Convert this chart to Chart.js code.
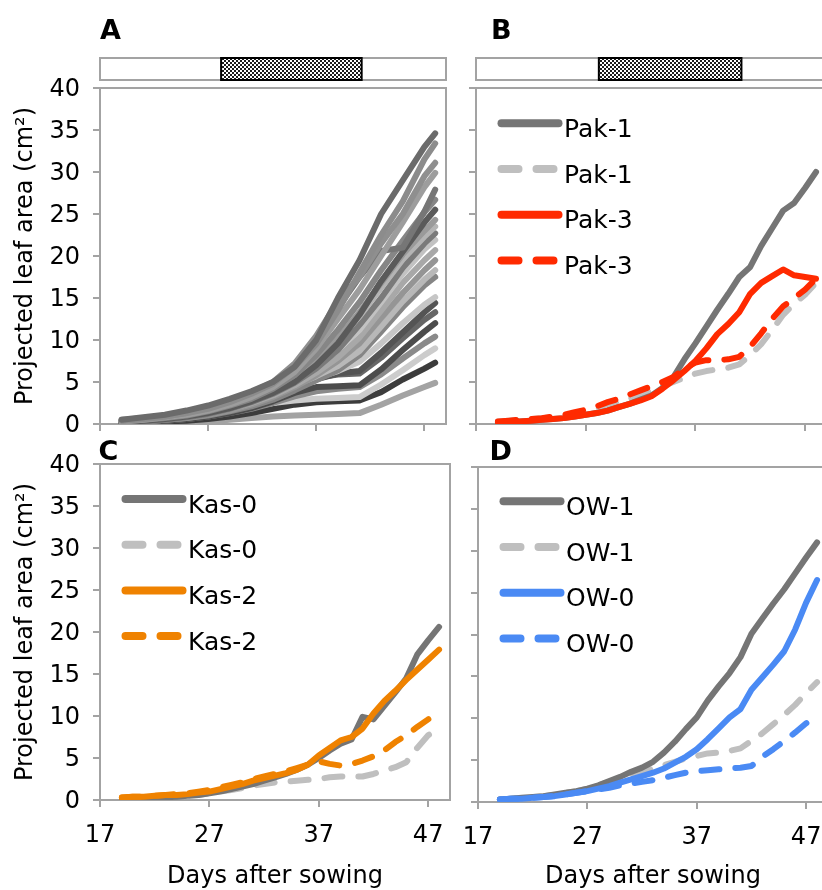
<!DOCTYPE html>
<html>
<head>
<meta charset="utf-8">
<script src="https://cdn.jsdelivr.net/npm/chart.js@4.4.1/dist/chart.umd.min.js"></script>
<style>
  html, body { margin: 0; padding: 0; background: #fff; overflow: hidden; width: 822px; height: 890px; position: relative; }
  canvas { position: absolute; left: 0; top: 0; }
</style>
</head>
<body>
<canvas id="pA" width="822" height="890"></canvas>
<canvas id="pB" width="850" height="890"></canvas>
<canvas id="pC" width="822" height="890"></canvas>
<canvas id="pD" width="850" height="890"></canvas>
<script>
// ---- axes ----
const dayTicks = [17, 27, 37, 47];
const areaTicks = [0, 5, 10, 15, 20, 25, 30, 35, 40];
const stressDays = [28.2, 41.2];          // stress period shown in the bar above A and B

// ---- panel A: individual accessions (every second day) ----
const daysA = [19, 21, 23, 25, 27, 29, 31, 33, 35, 37, 39, 41, 43, 45, 47, 48];
const a01 = [0.5, 0.8, 1.1, 1.6, 2.2, 3.0, 3.9, 5.0, 6.8, 10.0, 15.0, 19.5, 25.0, 29.0, 33.0, 34.6];
const a02 = [0.4, 0.6, 0.9, 1.3, 1.8, 2.6, 3.6, 4.8, 6.8, 9.5, 13.5, 18.0, 22.5, 26.5, 31.5, 33.4];
const a03 = [0.4, 0.6, 0.9, 1.3, 1.9, 2.7, 3.7, 5.0, 7.2, 10.5, 14.6, 17.5, 21.5, 25.0, 29.5, 31.1];
const a04 = [0.3, 0.5, 0.8, 1.1, 1.6, 2.3, 3.2, 4.4, 6.2, 9.0, 12.5, 16.0, 20.0, 24.0, 28.2, 29.9];
const a05 = [0.4, 0.6, 0.9, 1.2, 1.7, 2.5, 3.4, 4.6, 6.8, 9.8, 13.8, 17.5, 20.6, 21.0, 25.3, 27.9];
const a06 = [0.3, 0.5, 0.7, 1.0, 1.5, 2.2, 3.0, 4.2, 5.8, 8.2, 11.2, 14.5, 18.3, 21.8, 25.2, 26.7];
const a07 = [0.2, 0.4, 0.6, 0.9, 1.3, 1.9, 2.7, 3.7, 5.0, 7.0, 9.6, 13.0, 17.0, 20.5, 24.0, 25.5];
const a08 = [0.3, 0.5, 0.7, 1.0, 1.4, 2.0, 2.9, 4.0, 5.6, 7.6, 10.2, 13.3, 16.8, 20.2, 23.0, 24.3];
const a09 = [0.5, 0.7, 1.0, 1.4, 1.9, 2.6, 3.5, 4.6, 6.0, 7.8, 10.0, 12.8, 16.2, 19.6, 22.3, 23.5];
const a10 = [0.2, 0.3, 0.5, 0.8, 1.2, 1.8, 2.6, 3.6, 4.9, 6.6, 8.8, 11.8, 15.0, 18.6, 21.5, 22.7];
const a11 = [0.4, 0.6, 0.8, 1.1, 1.5, 2.1, 2.9, 3.9, 5.2, 6.9, 8.9, 11.2, 14.5, 17.9, 20.8, 21.9];
const a12 = [0.3, 0.4, 0.6, 0.9, 1.3, 1.8, 2.5, 3.4, 4.6, 6.1, 7.9, 10.3, 13.5, 16.8, 19.5, 20.7];
const a13 = [0.2, 0.3, 0.5, 0.7, 1.1, 1.6, 2.3, 3.2, 4.4, 5.8, 7.5, 9.6, 12.6, 15.6, 18.3, 19.5];
const a14 = [0.4, 0.6, 0.8, 1.1, 1.5, 2.1, 2.8, 3.6, 4.6, 5.7, 6.9, 8.7, 11.6, 14.6, 17.2, 18.3];
const a15 = [0.2, 0.3, 0.5, 0.7, 1.0, 1.5, 2.1, 2.9, 4.0, 5.2, 6.4, 8.2, 11.0, 13.9, 16.5, 17.5];
const a16 = [0.5, 0.7, 0.9, 1.2, 1.6, 2.2, 2.9, 3.7, 4.6, 5.5, 6.3, 7.4, 9.6, 12.0, 14.2, 15.1];
const a17 = [0.2, 0.3, 0.5, 0.7, 1.0, 1.5, 2.1, 2.9, 4.0, 5.3, 6.0, 6.3, 8.5, 10.9, 13.3, 14.4];
const a18 = [0.3, 0.4, 0.6, 0.8, 1.2, 1.7, 2.3, 3.1, 4.2, 5.5, 5.9, 6.0, 7.9, 10.2, 12.4, 13.3];
const a19 = [0.2, 0.3, 0.4, 0.6, 0.9, 1.3, 1.9, 2.7, 3.7, 4.4, 4.5, 4.6, 6.5, 8.8, 11.0, 12.0];
const a20 = [0.2, 0.3, 0.4, 0.6, 0.9, 1.3, 1.8, 2.5, 3.3, 3.9, 4.2, 4.4, 5.9, 7.8, 9.6, 10.4];
const a21 = [0.4, 0.5, 0.6, 0.8, 1.1, 1.5, 2.0, 2.5, 2.8, 3.0, 3.1, 3.2, 4.7, 6.4, 8.2, 9.0];
const a22 = [0.1, 0.2, 0.3, 0.4, 0.6, 0.9, 1.3, 1.8, 2.3, 2.6, 2.7, 2.8, 3.8, 5.3, 6.6, 7.3];
const a23 = [0.1, 0.1, 0.2, 0.2, 0.3, 0.5, 0.7, 0.9, 1.0, 1.1, 1.2, 1.3, 2.3, 3.4, 4.4, 4.9];
const accessionsA = [a01, a02, a03, a04, a05, a06, a07, a08, a09, a10, a11, a12,
                     a13, a14, a15, a16, a17, a18, a19, a20, a21, a22, a23];
const shadesA = ['#6b6b6b', '#8c8c8c', '#8f8f8f', '#9d9d9d', '#767676', '#868686', '#5a5a5a', '#9a9a9a',
                 '#b4b4b4', '#7a7a7a', '#c2c2c2', '#a8a8a8', '#959595', '#b8b8b8', '#858585', '#c6c6c6',
                 '#545454', '#666666', '#4c4c4c', '#8a8a8a', '#cccccc', '#3c3c3c', '#a3a3a3'];

// ---- panels B-D: daily means ----
const days = [19, 20, 21, 22, 23, 24, 25, 26, 27, 28, 29, 30, 31, 32, 33, 34, 35, 36, 37, 38, 39, 40, 41, 42, 43, 44, 45, 46, 47, 48];

const pak1Ctrl   = [0.2, 0.3, 0.3, 0.4, 0.5, 0.6, 0.7, 0.9, 1.1, 1.3, 1.6, 2.0, 2.4, 2.9, 3.4, 4.3, 5.6, 7.7, 9.6, 11.6, 13.6, 15.5, 17.5, 18.7, 21.2, 23.3, 25.4, 26.3, 28.1, 30.0];
const pak1Stress = [0.3, 0.4, 0.5, 0.6, 0.7, 0.8, 1.0, 1.2, 1.5, 1.8, 2.2, 2.6, 3.0, 3.5, 4.0, 4.5, 5.0, 5.5, 6.0, 6.3, 6.5, 6.7, 7.1, 8.2, 9.5, 11.2, 13.0, 14.3, 15.4, 16.8];
const pak3Ctrl   = [0.2, 0.3, 0.3, 0.4, 0.5, 0.6, 0.7, 0.9, 1.1, 1.3, 1.6, 2.0, 2.4, 2.8, 3.3, 4.2, 5.2, 6.3, 7.5, 9.0, 10.7, 11.9, 13.3, 15.5, 16.8, 17.6, 18.4, 17.7, 17.5, 17.3];
const pak3Stress = [0.3, 0.4, 0.5, 0.6, 0.7, 0.9, 1.1, 1.4, 1.7, 2.1, 2.6, 3.0, 3.5, 4.0, 4.5, 5.0, 5.6, 6.6, 7.3, 7.6, 7.6, 7.7, 8.0, 9.2, 10.8, 12.5, 14.0, 15.0, 16.0, 17.3];

const kas0Ctrl   = [0.1, 0.1, 0.2, 0.2, 0.3, 0.4, 0.5, 0.6, 0.8, 1.0, 1.3, 1.6, 1.9, 2.3, 2.7, 3.1, 3.6, 4.2, 5.0, 5.9, 6.7, 7.2, 9.9, 9.6, 11.2, 12.8, 14.5, 17.3, 19.0, 20.6];
const kas0Stress = [0.1, 0.1, 0.2, 0.2, 0.3, 0.4, 0.5, 0.6, 0.8, 1.0, 1.2, 1.4, 1.7, 1.9, 2.1, 2.2, 2.3, 2.4, 2.5, 2.7, 2.8, 2.8, 2.8, 3.1, 3.5, 3.9, 4.5, 6.2, 7.7, 8.6];
const kas2Ctrl   = [0.3, 0.4, 0.4, 0.5, 0.6, 0.6, 0.7, 0.9, 1.0, 1.3, 1.6, 1.9, 2.3, 2.6, 2.9, 3.2, 3.6, 4.2, 5.3, 6.2, 7.1, 7.5, 8.5, 10.3, 11.8, 13.0, 14.3, 15.5, 16.7, 17.9];
const kas2Stress = [0.3, 0.4, 0.4, 0.5, 0.6, 0.7, 0.8, 1.0, 1.2, 1.5, 1.8, 2.1, 2.5, 2.8, 3.1, 3.4, 3.8, 4.2, 4.6, 4.3, 4.1, 4.3, 4.7, 5.2, 5.9, 6.9, 7.7, 8.7, 9.6, 10.3];

const ow1Ctrl    = [0.3, 0.4, 0.5, 0.6, 0.7, 0.9, 1.1, 1.3, 1.6, 2.0, 2.5, 3.0, 3.6, 4.1, 4.8, 5.9, 7.2, 8.7, 10.1, 12.1, 13.8, 15.4, 17.3, 20.1, 21.9, 23.7, 25.4, 27.3, 29.2, 31.0];
const ow1Stress  = [0.3, 0.4, 0.5, 0.6, 0.7, 0.9, 1.1, 1.3, 1.6, 2.0, 2.4, 2.8, 3.2, 3.6, 4.0, 4.4, 4.8, 5.2, 5.5, 5.8, 5.9, 6.1, 6.4, 7.3, 8.2, 9.3, 10.4, 11.6, 13.0, 14.3];
const ow0Ctrl    = [0.3, 0.4, 0.4, 0.5, 0.6, 0.7, 0.9, 1.1, 1.3, 1.6, 1.9, 2.3, 2.7, 3.1, 3.5, 4.0, 4.7, 5.4, 6.3, 7.5, 8.8, 10.1, 11.1, 13.4, 14.9, 16.4, 18.0, 20.6, 23.8, 26.5];
const ow0Stress  = [0.3, 0.4, 0.4, 0.5, 0.6, 0.7, 0.9, 1.1, 1.3, 1.5, 1.7, 2.0, 2.2, 2.4, 2.6, 2.9, 3.2, 3.5, 3.7, 3.8, 3.9, 4.0, 4.1, 4.3, 5.4, 6.3, 7.3, 8.3, 9.4, 10.4];

// ---- styling ----
const FONT = '"DejaVu Sans", "Liberation Sans", sans-serif';
const AXIS = '#a3a3a3';
const DARK = '#757575', LIGHT = '#bfbfbf', RED = '#ff2a00', ORANGE = '#ef8200', BLUE = '#4a8af4';
const Y_AXIS_W = 100;

function lineDataset(xs, ys, color, dashed, width) {
  return {
    data: xs.map((x, i) => ({ x: x, y: ys[i] })),
    borderColor: color,
    borderWidth: width,
    borderDash: dashed ? [18, 16] : [],
    borderCapStyle: 'round',
    borderJoinStyle: 'round',
    pointRadius: 0,
    fill: false,
    tension: 0
  };
}

// key entries are listed in legend order; stackOrder gives the drawing order (first = on top)
const keyB = [
  { label: 'Pak-1', values: pak1Ctrl,   color: DARK,  dashed: false },
  { label: 'Pak-1', values: pak1Stress, color: LIGHT, dashed: true },
  { label: 'Pak-3', values: pak3Ctrl,   color: RED,   dashed: false },
  { label: 'Pak-3', values: pak3Stress, color: RED,   dashed: true }
];
const keyC = [
  { label: 'Kas-0', values: kas0Ctrl,   color: DARK,   dashed: false },
  { label: 'Kas-0', values: kas0Stress, color: LIGHT,  dashed: true },
  { label: 'Kas-2', values: kas2Ctrl,   color: ORANGE, dashed: false },
  { label: 'Kas-2', values: kas2Stress, color: ORANGE, dashed: true }
];
const keyD = [
  { label: 'OW-1', values: ow1Ctrl,   color: DARK, dashed: false },
  { label: 'OW-1', values: ow1Stress, color: LIGHT, dashed: true },
  { label: 'OW-0', values: ow0Ctrl,   color: BLUE, dashed: false },
  { label: 'OW-0', values: ow0Stress, color: BLUE, dashed: true }
];
const stackOrder = [2, 3, 0, 1];

function keyDatasets(key) {
  return stackOrder.map(i => lineDataset(days, key[i].values, key[i].color, key[i].dashed, 6));
}

let hatch = null;
function hatchPattern(ctx) {
  if (hatch) return hatch;
  const p = document.createElement('canvas');
  p.width = 4; p.height = 4;
  const g = p.getContext('2d');
  g.fillStyle = '#ffffff'; g.fillRect(0, 0, 4, 4);
  g.fillStyle = '#1c1c1c'; g.fillRect(0, 0, 2, 2); g.fillRect(2, 2, 2, 2);
  hatch = ctx.createPattern(p, 'repeat');
  return hatch;
}

// per-panel decorations: letter, stress bar, key
const decor = {
  pA: { letter: 'A', lx: 100, ly: 38.5, bar: true },
  pB: { letter: 'B', lx: 491, ly: 38.5, bar: true, key: keyB, keyTop: 35.3 },
  pC: { letter: 'C', lx: 98.6, ly: 460, key: keyC, keyTop: 35 },
  pD: { letter: 'D', lx: 489.5, ly: 460, key: keyD, keyTop: 34.3 }
};

const panelDecor = {
  id: 'panelDecor',
  afterDraw(chart) {
    const d = decor[chart.canvas.id];
    const ctx = chart.ctx;
    const ca = chart.chartArea;
    const xs = chart.scales.x;
    ctx.save();

    // closing frame (top and right)
    ctx.strokeStyle = AXIS; ctx.lineWidth = 2; ctx.setLineDash([]);
    ctx.beginPath();
    ctx.moveTo(ca.left - 1, ca.top); ctx.lineTo(ca.right, ca.top); ctx.lineTo(ca.right, ca.bottom);
    ctx.stroke();

    // panel letter
    ctx.fillStyle = '#000';
    ctx.font = 'bold 27px ' + FONT;
    ctx.textAlign = 'left'; ctx.textBaseline = 'alphabetic';
    ctx.fillText(d.letter, d.lx, d.ly);

    // treatment bar with the stress period
    if (d.bar) {
      const y0 = 58, h = 22;
      ctx.fillStyle = '#fff';
      ctx.fillRect(xs.left, y0, xs.right - xs.left, h);
      ctx.strokeStyle = AXIS; ctx.lineWidth = 2;
      ctx.strokeRect(xs.left, y0, xs.right - xs.left, h);
      const s0 = xs.getPixelForValue(stressDays[0]);
      const s1 = xs.getPixelForValue(stressDays[1]);
      ctx.fillStyle = hatchPattern(ctx);
      ctx.fillRect(s0, y0, s1 - s0, h);
      ctx.strokeStyle = '#000'; ctx.lineWidth = 2;
      ctx.strokeRect(s0, y0, s1 - s0, h);
    }

    // key
    if (d.key) {
      d.key.forEach((s, i) => {
        const y = ca.top + d.keyTop + i * 45.7;
        ctx.strokeStyle = s.color; ctx.lineWidth = 8; ctx.lineCap = 'round';
        ctx.setLineDash(s.dashed ? [17, 18] : []);
        ctx.beginPath();
        ctx.moveTo(ca.left + 25.5, y); ctx.lineTo(ca.left + 82.5, y);
        ctx.stroke();
        ctx.setLineDash([]);
        ctx.fillStyle = '#000';
        ctx.font = '25px ' + FONT;
        ctx.textAlign = 'left'; ctx.textBaseline = 'alphabetic';
        ctx.fillText(s.label, ca.left + 88, y + 13.5);
      });
    }
    ctx.restore();
  }
};

function makePanel(id, spec) {
  const cv = document.getElementById(id);
  const W = cv.width, H = cv.height;
  const a = spec.area;
  return new Chart(cv, {
    type: 'line',
    data: { datasets: spec.datasets },
    options: {
      responsive: false,
      animation: false,
      devicePixelRatio: 1,
      events: [],
      layout: { padding: { left: a.left - Y_AXIS_W, top: a.top, right: W - a.right, bottom: H - a.bottom - spec.xAxisH } },
      plugins: { legend: { display: false }, tooltip: { enabled: false } },
      scales: {
        x: {
          type: 'linear', min: 17, max: 49,
          afterBuildTicks: s => { s.ticks = dayTicks.map(v => ({ value: v })); },
          afterFit: s => { s.height = spec.xAxisH; },
          ticks: { display: spec.xLabels, padding: 14, color: '#000', font: { family: FONT, size: 24 }, maxRotation: 0, autoSkip: false },
          grid: { drawOnChartArea: false, drawTicks: true, tickLength: 7, color: AXIS, lineWidth: 2 },
          border: { display: true, color: AXIS, width: 2 },
          title: { display: spec.xLabels, text: 'Days after sowing', color: '#000', font: { family: FONT, size: 24 }, padding: { top: 0, bottom: -1 } }
        },
        y: {
          type: 'linear', min: 0, max: 40,
          afterBuildTicks: s => { s.ticks = areaTicks.map(v => ({ value: v })); },
          afterFit: s => { s.width = Y_AXIS_W; },
          ticks: { display: spec.yLabels, padding: 13, labelOffset: 1.5, color: '#000', font: { family: FONT, size: 24 } },
          grid: { drawOnChartArea: false, drawTicks: true, tickLength: 7, color: AXIS, lineWidth: 2 },
          border: { display: true, color: AXIS, width: 2 },
          title: { display: spec.yLabels, text: 'Projected leaf area (cm²)', color: '#000', font: { family: FONT, size: 24 }, padding: { top: 11.6, bottom: 0 } }
        }
      }
    },
    plugins: [panelDecor]
  });
}

makePanel('pA', {
  area: { left: 100, top: 88, right: 446, bottom: 424 }, xAxisH: 10, xLabels: false, yLabels: true,
  datasets: accessionsA.map((v, i) => lineDataset(daysA, v, shadesA[i], false, 6))
});
makePanel('pB', {
  area: { left: 476, top: 88, right: 827, bottom: 424 }, xAxisH: 10, xLabels: false, yLabels: false,
  datasets: keyDatasets(keyB)
});
makePanel('pC', {
  area: { left: 100, top: 464, right: 450, bottom: 800 }, xAxisH: 90, xLabels: true, yLabels: true,
  datasets: keyDatasets(keyC)
});
makePanel('pD', {
  area: { left: 478, top: 467, right: 828, bottom: 802 }, xAxisH: 88, xLabels: true, yLabels: false,
  datasets: keyDatasets(keyD)
});
</script>
</body>
</html>
